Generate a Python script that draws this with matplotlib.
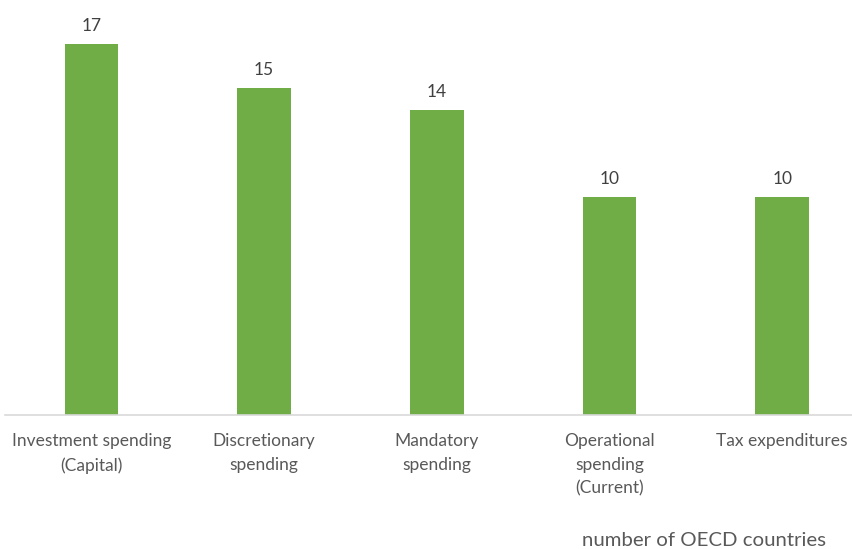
import matplotlib.pyplot as plt

categories = ["Investment spending\n(Capital)", "Discretionary\nspending", "Mandatory\nspending",
              "Operational\nspending\n(Current)", "Tax expenditures"]
counts = [17, 15, 14, 10, 10]

plt.rcParams["font.family"] = ["Lato", "DejaVu Sans"]

fig = plt.figure(figsize=(8.53, 5.49), dpi=100)
ax = fig.add_axes([5 / 853, 1 - 415 / 549, 848 / 853, 415 / 549])

x = list(range(len(categories)))
ax.bar(x, counts, width=0.31, color="#70AD47", zorder=2)
for xi, v in zip(x, counts):
    ax.annotate(str(v), (xi, v), xytext=(0, 7), textcoords="offset points",
                ha="center", va="bottom", fontsize=12.5, color="#404040")

ax.set_xlim(-0.50, 4.41)
ax.set_ylim(0, 19.02)
ax.set_yticks([])
ax.set_xticks(x)
ax.set_xticklabels(categories, fontsize=12.5, color="#595959", linespacing=1.6)
ax.tick_params(axis="x", length=0, pad=13)
for s in ["top", "right", "left"]:
    ax.spines[s].set_visible(False)
ax.spines["bottom"].set_color("#D9D9D9")
ax.spines["bottom"].set_linewidth(1.2)

fig.text(704 / 853, 1 - 540 / 549, "number of OECD countries", ha="center", va="center",
         fontsize=14.7, color="#595959")

fig.savefig("out.png", dpi=100)
